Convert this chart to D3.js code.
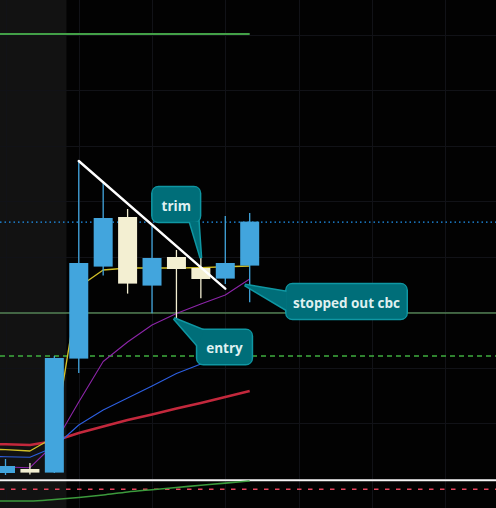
<!DOCTYPE html>
<html><head><meta charset="utf-8">
<script src="https://cdn.jsdelivr.net/npm/d3@7/dist/d3.min.js"></script>
<style>html,body{margin:0;padding:0;background:#020202;overflow:hidden}</style>
</head><body>
<svg id="chart" width="496" height="508"></svg>
<script>
// ---- data ----
const candleIndex = [0,1,2,3,4,5,6,7,8,9,10];
const opens  = [48.835, 48.855, 48.837, 49.407, 49.867, 50.115, 49.772, 49.915, 49.860, 49.807, 49.872];
const highs  = [48.905, 48.885, 49.420, 50.395, 50.295, 50.155, 50.070, 49.950, 49.917, 50.120, 50.135];
const lows   = [48.825, 48.827, 48.835, 49.335, 49.822, 49.732, 49.634, 49.610, 49.709, 49.780, 49.689];
const closes = [48.870, 48.837, 49.410, 49.885, 50.110, 49.782, 49.910, 49.855, 49.805, 49.885, 50.092];

const maIndex  = [-1, 0, 1, 2, 3, 4, 5, 6, 7, 8, 9, 10];
const maYellow = [48.954, 48.952, 48.945, 49.015, 49.765, 49.850, 49.860, 49.860, 49.860, 49.862, 49.866, 49.870];
const maRed    = [48.980, 48.9785, 48.975, 48.995, 49.035, 49.0675, 49.100, 49.1275, 49.1575, 49.185, 49.215, 49.245];
const maBlue   = [48.9175, 48.9165, 48.9135, 48.965, 49.075, 49.150, 49.210, 49.270, 49.3325, 49.380, 49.430, 49.490];
const maPurple = [48.8675, 48.865, 48.8615, 48.980, 49.190, 49.3925, 49.490, 49.575, 49.6325, 49.680, 49.725, 49.805];
const oscGreen = [48.695, 48.695, 48.695, 48.7025, 48.7125, 48.725, 48.740, 48.7515, 48.7625, 48.7735, 48.7845, 48.795];

// horizontal levels
const levelNames  = ["target", "last", "stop", "prevHigh", "support", "lowerBand"];
const levelPrices = [51.030, 50.089, 49.635, 49.420, 48.7985, 48.7535];

// trendline (candle index, price)
const trendIndex = [3, 9];
const trendPrice = [50.395, 49.7565];

// annotations
const noteText  = ["trim", "entry", "stopped out cbc"];
const noteIndex = [8.0, 6.9, 9.8];
const notePrice = [49.910, 49.6075, 49.775];

// grid
const gridIndex = [0, 3, 6, 9, 12, 15, 18];
const gridPrices = [51.025, 50.7475, 50.47, 50.1925, 49.915, 49.6375, 49.36, 49.0825, 48.805];
const sessionBreak = 2.5;

// ---- drawing ----
const W = 496, H = 508;
const svg = d3.select("#chart");
const x = d3.scaleLinear().domain([0, 10]).range([5.5, 249.7]);
const y = d3.scaleLinear().domain([48.66, 51.20]).range([H, 0]);

svg.append("rect").attr("width", W).attr("height", H).attr("fill", "#020202");
svg.append("rect").attr("x", 0).attr("y", 0).attr("width", x(sessionBreak)).attr("height", H).attr("fill", "#121212");

// grid
svg.append("g").selectAll("line").data(gridIndex).join("line")
  .attr("x1", d => Math.round(x(d)) + 0.5).attr("x2", d => Math.round(x(d)) + 0.5)
  .attr("y1", 0).attr("y2", H).attr("stroke", "#111217").attr("stroke-width", 1);
svg.append("g").selectAll("line").data(gridPrices).join("line")
  .attr("y1", d => Math.round(y(d)) + 0.5).attr("y2", d => Math.round(y(d)) + 0.5)
  .attr("x1", 0).attr("x2", W).attr("stroke", "#111217").attr("stroke-width", 1);

// levels
const levelStyle = {
  target:    {color: "#43a047", width: 2,   dash: null,  end: 10},
  last:      {color: "#2196f3", width: 1.3, dash: "1.5,3", end: null},
  stop:      {color: "#74b874", width: 1,   dash: null,  end: null},
  prevHigh:  {color: "#3fae3f", width: 1.3, dash: "5,4", end: null},
  support:   {color: "#f4f4f4", width: 2,   dash: null,  end: null},
  lowerBand: {color: "#e8455e", width: 1.5, dash: "4.5,6.5", end: null}
};
levelNames.forEach((n, i) => {
  const s = levelStyle[n];
  svg.append("line")
    .attr("x1", 0).attr("x2", s.end === null ? W : x(s.end))
    .attr("y1", y(levelPrices[i])).attr("y2", y(levelPrices[i]))
    .attr("stroke", s.color).attr("stroke-width", s.width)
    .attr("stroke-dasharray", s.dash);
});

// moving averages
function maLine(vals, color, width, curve) {
  const line = d3.line().x((d, i) => x(maIndex[i])).y(d => y(d)).curve(curve || d3.curveLinear);
  svg.append("path").datum(vals).attr("d", line).attr("fill", "none")
    .attr("stroke", color).attr("stroke-width", width).attr("stroke-linejoin", "round");
}
maLine(oscGreen, "#3c9a3c", 1.6, d3.curveMonotoneX);
maLine(maRed, "#c3283c", 2.6);
maLine(maYellow, "#d2c028", 1.4);
maLine(maBlue, "#2d5fe0", 1.1);
maLine(maPurple, "#8c25a8", 1.1);

// candles
const bw = 19;
const blue = "#42a5dd", cream = "#f3efd2";
const cg = svg.append("g");
candleIndex.forEach(i => {
  const up = closes[i] >= opens[i];
  const col = up ? blue : cream;
  cg.append("line").attr("x1", x(i)).attr("x2", x(i))
    .attr("y1", y(highs[i])).attr("y2", y(lows[i]))
    .attr("stroke", col).attr("stroke-width", 1.3);
  const top = y(Math.max(opens[i], closes[i])), bot = y(Math.min(opens[i], closes[i]));
  cg.append("rect").attr("x", x(i) - bw / 2).attr("y", top)
    .attr("width", bw).attr("height", Math.max(1, bot - top)).attr("fill", col);
});

// trendline
svg.append("line")
  .attr("x1", x(trendIndex[0])).attr("y1", y(trendPrice[0]))
  .attr("x2", x(trendIndex[1])).attr("y2", y(trendPrice[1]))
  .attr("stroke", "#ffffff").attr("stroke-width", 2.4).attr("stroke-linecap", "round");

// callouts (box layout relative to tip, in px)
const noteLayout = [
  {box: [-48.3, -70.7, 47.3, 34.4], base: [[-11, -36.5], [-2.5, -36.5]]},
  {box: [23.3, 11.5, 54.4, 34], base: [[30, 12], [23.5, 27]]},
  {box: [41.7, -0.7, 120, 34.4], base: [[42, 7], [42, 25]]}
];
const fillC = "#006e79", borderC = "#0f97a3";
noteText.forEach((t, k) => {
  const tx = x(noteIndex[k]), ty = y(notePrice[k]);
  const L = noteLayout[k];
  const g = svg.append("g");
  const tri = `M${tx},${ty}L${tx + L.base[0][0]},${ty + L.base[0][1]}L${tx + L.base[1][0]},${ty + L.base[1][1]}Z`;
  // border layer
  g.append("rect").attr("x", tx + L.box[0]).attr("y", ty + L.box[1])
    .attr("width", L.box[2]).attr("height", L.box[3]).attr("rx", 6)
    .attr("fill", borderC).attr("stroke", borderC).attr("stroke-width", 3);
  g.append("path").attr("d", tri).attr("fill", borderC).attr("stroke", borderC)
    .attr("stroke-width", 3).attr("stroke-linejoin", "miter");
  // fill layer
  g.append("rect").attr("x", tx + L.box[0]).attr("y", ty + L.box[1])
    .attr("width", L.box[2]).attr("height", L.box[3]).attr("rx", 5)
    .attr("fill", fillC);
  g.append("path").attr("d", tri).attr("fill", fillC);
  g.append("text").attr("x", tx + L.box[0] + L.box[2] / 2).attr("y", ty + L.box[1] + L.box[3] / 2 + 1)
    .attr("text-anchor", "middle").attr("dominant-baseline", "central")
    .attr("font-family", "'Open Sans', sans-serif").attr("font-weight", 700).attr("font-size", 13.5)
    .attr("fill", "#dff0f0").text(t);
});
</script>
</body></html>
